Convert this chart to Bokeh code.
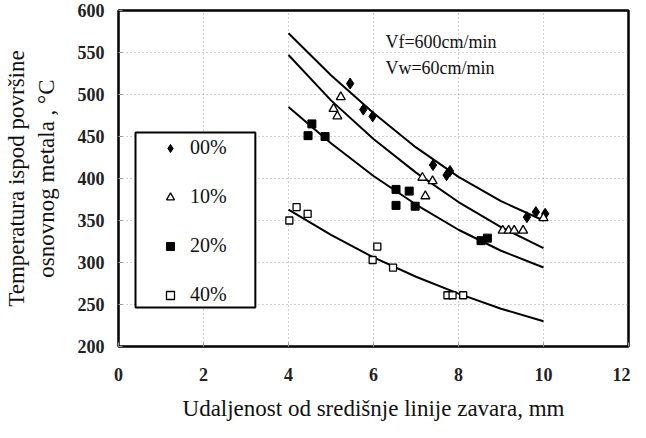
from bokeh.plotting import figure
from bokeh.models import Legend, LegendItem, Label, BoxAnnotation, FixedTicker, Range1d
from bokeh.embed import file_html
from bokeh.resources import INLINE

# fitted trend curves
x_curve = [4, 5, 6, 7, 8, 9, 10]
fit_00 = [573, 523, 478, 437, 402, 373, 350]
fit_10 = [547, 493, 447, 407, 372, 342, 317]
fit_20 = [485, 442, 403, 369, 339, 314, 294]
fit_40 = [363, 333, 306, 283, 263, 245, 230]

# measured points
x_00 = [5.45, 5.76, 5.98, 7.40, 7.72, 7.80, 9.61, 9.82, 10.04]
y_00 = [513, 482, 474, 416, 404, 409, 354, 360, 358]
x_10 = [5.06, 5.15, 5.23, 7.15, 7.39, 7.22, 9.04, 9.18, 9.31, 9.52, 10.0]
y_10 = [483, 474, 497, 401, 397, 379, 338, 338, 338, 338, 353]
x_20 = [4.46, 4.55, 4.86, 6.53, 6.84, 6.53, 6.98, 8.53, 8.68]
y_20 = [451, 465, 450, 387, 385, 368, 367, 326, 329]
x_40 = [4.02, 4.19, 4.45, 5.98, 6.09, 6.46, 7.74, 7.86, 8.11]
y_40 = [350, 366, 358, 303, 319, 294, 261, 261, 261]

series_labels = ["00%", "10%", "20%", "40%"]
x_ticks = [0, 2, 4, 6, 8, 10, 12]
y_ticks = [200, 250, 300, 350, 400, 450, 500, 550, 600]
y_title = "Temperatura ispod površine\nosnovnog metala , °C"
x_title = "Udaljenost od središnje linije zavara, mm"

SERIF = "Liberation Serif"

p = figure(frame_width=510, frame_height=336,
           x_range=Range1d(0, 12), y_range=Range1d(200, 600),
           output_backend="svg", toolbar_location=None,
           min_border_left=118, min_border_right=2,
           min_border_top=10, min_border_bottom=76,
           background_fill_color="white", border_fill_color="white")

p.outline_line_color = "black"
p.outline_line_width = 2.5

for ax in (p.xaxis[0], p.yaxis[0]):
    ax.axis_line_color = None
    ax.major_tick_in = 4
    ax.major_tick_out = 0
    ax.major_tick_line_color = "#999999"
    ax.minor_tick_line_color = None
    ax.major_label_text_font = SERIF
    ax.major_label_text_font_size = "18px"
    ax.major_label_text_font_style = "bold"
    ax.major_label_text_color = "#222222"
    ax.axis_label_text_font = SERIF
    ax.axis_label_text_font_style = "normal"
    ax.axis_label_text_font_size = "23px"
    ax.axis_label_text_color = "#111111"

p.xaxis[0].ticker = FixedTicker(ticks=x_ticks)
p.yaxis[0].ticker = FixedTicker(ticks=y_ticks)
p.xaxis[0].major_label_standoff = 21
p.yaxis[0].major_label_standoff = 14
p.xaxis[0].axis_label = x_title
p.yaxis[0].axis_label = y_title
p.xaxis[0].axis_label_standoff = 12
p.yaxis[0].axis_label_standoff = 16

for g in (p.xgrid[0], p.ygrid[0]):
    g.grid_line_color = "#888888"
    g.grid_line_dash = "1 3"
    g.grid_line_width = 1
    g.grid_line_alpha = 0.8
p.xgrid[0].ticker = FixedTicker(ticks=x_ticks)
p.ygrid[0].ticker = FixedTicker(ticks=y_ticks)

for fit in (fit_00, fit_10, fit_20, fit_40):
    p.line(x_curve, fit, line_color="black", line_width=2)

r00 = p.scatter(x_00, y_00, marker="diamond", size=11, fill_color="black", line_color="black")
r10 = p.scatter(x_10, y_10, marker="triangle", size=9, fill_color="white", line_color="black", line_width=1.3)
r20 = p.scatter(x_20, y_20, marker="square", size=8, fill_color="black", line_color="black")
r40 = p.scatter(x_40, y_40, marker="square", size=7, fill_color="white", line_color="black", line_width=1.3)

# legend frame
box = BoxAnnotation(left=0.4, right=3.22, top=454.8, bottom=246.4,
                    fill_color="white", fill_alpha=1.0,
                    line_color="black", line_width=2, line_alpha=1.0)
p.add_layout(box)

legend = Legend(items=[LegendItem(label=lab, renderers=[r]) for lab, r in
                       zip(series_labels, (r00, r10, r20, r40))],
                location=(42, 40), orientation="vertical",
                border_line_color=None, background_fill_alpha=0.0,
                padding=0, margin=0, spacing=26,
                glyph_width=20, glyph_height=20, label_height=20,
                label_standoff=10,
                label_text_font=SERIF, label_text_font_size="20px",
                label_text_color="#111111")
p.add_layout(legend, "center")

p.add_layout(Label(x=6.28, y=563, text="Vf=600cm/min", text_font=SERIF,
                   text_font_size="18px", text_baseline="middle", text_color="#111111"))
p.add_layout(Label(x=6.28, y=532, text="Vw=60cm/min", text_font=SERIF,
                   text_font_size="18px", text_baseline="middle", text_color="#111111"))

open("out.html", "w").write(file_html(p, INLINE))
